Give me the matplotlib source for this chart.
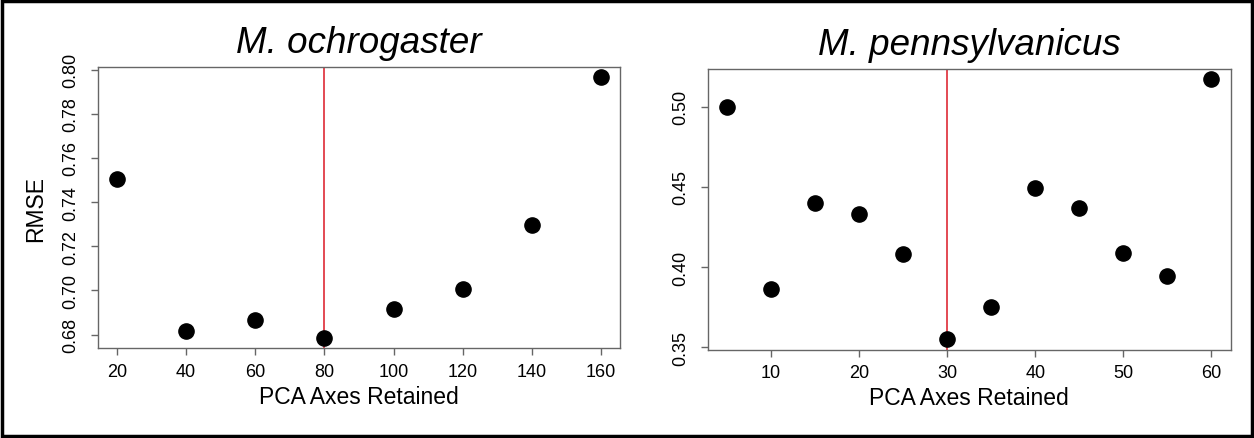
import matplotlib
matplotlib.use("Agg")
import matplotlib.pyplot as plt
from matplotlib.patches import Rectangle

plt.rcParams['font.family'] = ['Liberation Sans', 'DejaVu Sans']

# M. ochrogaster
ochro_axes = [20, 40, 60, 80, 100, 120, 140, 160]
ochro_rmse = [0.7505, 0.6815, 0.6868, 0.6786, 0.6916, 0.7005, 0.7298, 0.7965]
ochro_best = 80
ochro_yticks = [0.68, 0.70, 0.72, 0.74, 0.76, 0.78, 0.80]
ochro_xticks = [20, 40, 60, 80, 100, 120, 140, 160]

# M. pennsylvanicus
penn_axes = [5, 10, 15, 20, 25, 30, 35, 40, 45, 50, 55, 60]
penn_rmse = [0.500, 0.3861, 0.4397, 0.4329, 0.408, 0.355, 0.3753,
             0.4491, 0.4366, 0.409, 0.3947, 0.5169]
penn_best = 30
penn_yticks = [0.35, 0.40, 0.45, 0.50]
penn_xticks = [10, 20, 30, 40, 50, 60]

FRAME = '#666666'


def r_limits(vals):
    # R pads the data range by 4% on each side
    lo, hi = min(vals), max(vals)
    pad = (hi - lo) * 0.04
    return lo - pad, hi + pad


def panel(ax, x, y, best, xticks, yticks, title):
    ax.axvline(best, color='#e03a45', lw=1.3, zorder=1)
    ax.scatter(x, y, s=120, color='black', zorder=3, clip_on=False)
    ax.set_xlim(*r_limits(x))
    ax.set_ylim(*r_limits(y))
    ax.set_xticks(xticks)
    ax.set_yticks(yticks)
    ax.set_yticklabels(['{:.2f}'.format(v) for v in yticks], rotation=90, va='center')
    ax.tick_params(length=5, width=1, color=FRAME, labelsize=13)
    ax.tick_params(axis='x', pad=5.5)
    ax.tick_params(axis='y', pad=8)
    for s in ax.spines.values():
        s.set_color(FRAME)
        s.set_linewidth(1)
    ax.set_xlabel('PCA Axes Retained', fontsize=16.5)
    ax.xaxis.set_label_coords(0.5, -0.171)
    ax.xaxis.label.set_va('center')
    ax.text(0.5, 1.053, title, transform=ax.transAxes, fontsize=26.5,
            style='italic', ha='center', va='baseline')


fig = plt.figure(figsize=(12.54, 4.39), dpi=100)
ax1 = fig.add_axes([0.0778, 0.205, 0.417, 0.640])
ax2 = fig.add_axes([0.5644, 0.201, 0.4171, 0.6395])

panel(ax1, ochro_axes, ochro_rmse, ochro_best, ochro_xticks, ochro_yticks,
      'M. ochrogaster')
ax1.set_ylabel('RMSE', fontsize=16.5)
ax1.yaxis.set_label_coords(-0.118, 0.5)
ax1.yaxis.label.set_va('center')
panel(ax2, penn_axes, penn_rmse, penn_best, penn_xticks, penn_yticks,
      'M. pennsylvanicus')

fig.patches.append(Rectangle((0.0012, 0.0035), 0.9976, 0.993, transform=fig.transFigure,
                             fill=False, edgecolor='black', linewidth=2.5))

fig.savefig('out.png', dpi=100)
